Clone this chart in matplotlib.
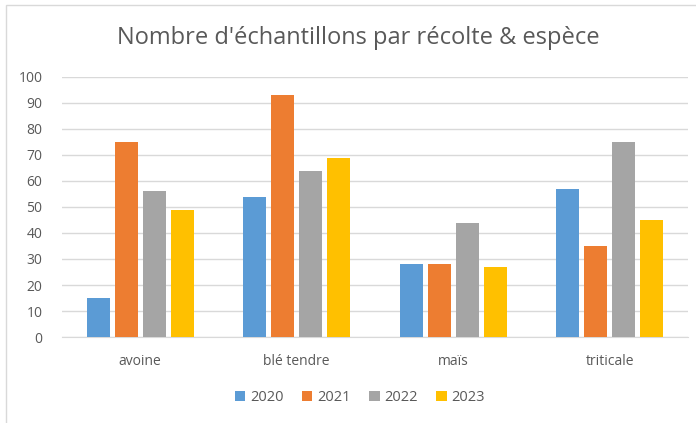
import matplotlib.pyplot as plt
import numpy as np

# Donnees
especes = ["avoine", "blé tendre", "maïs", "triticale"]
annees = ["2020", "2021", "2022", "2023"]
v2020 = [15, 54, 28, 57]
v2021 = [75, 93, 28, 35]
v2022 = [56, 64, 44, 75]
v2023 = [49, 69, 27, 45]
couleurs = ["#5B9BD5", "#ED7D31", "#A5A5A5", "#FFC000"]

plt.rcParams['font.family'] = ['Open Sans', 'DejaVu Sans']
gris = "#595959"

fig = plt.figure(figsize=(6.96, 4.23), dpi=100)
ax = fig.add_axes([0.089, 0.2033, 0.8995, 0.6147])

# Cadre du graphique
fig.patches.append(plt.Rectangle((0.009, -0.1), 1.2, 1.088, transform=fig.transFigure,
                                 fill=False, edgecolor="#d9d9d9", linewidth=1))

x = np.arange(len(especes))
largeur = 0.147
pas = 0.179
series = [v2020, v2021, v2022, v2023]
for i, vals in enumerate(series):
    ax.bar(x + (i - 1.5) * pas, vals, largeur, color=couleurs[i], label=annees[i], zorder=3)

ax.set_xlim(-0.5, 3.5)
ax.set_ylim(0, 100)
ax.set_yticks(range(0, 101, 10))
ax.set_xticks(x)
ax.set_xticklabels(especes)
ax.grid(axis="y", color="#d9d9d9", linewidth=1, zorder=0)
for s in ["top", "right", "left"]:
    ax.spines[s].set_visible(False)
ax.spines["bottom"].set_color("#d9d9d9")
ax.tick_params(axis="both", length=0, colors=gris, labelsize=10)
ax.tick_params(axis="x", pad=12)
ax.tick_params(axis="y", pad=14)

fig.text(0.515, 0.91, "Nombre d'échantillons par récolte & espèce", ha="center", va="center",
         fontsize=17, color=gris)

ax.legend(loc="center", bbox_to_anchor=(0.517, 0.06), bbox_transform=fig.transFigure, ncol=4,
          frameon=False, handlelength=0.7, handleheight=0.7, handletextpad=0.3,
          columnspacing=1.3, fontsize=10.5, labelcolor=gris)

fig.savefig("out.png", dpi=100)
